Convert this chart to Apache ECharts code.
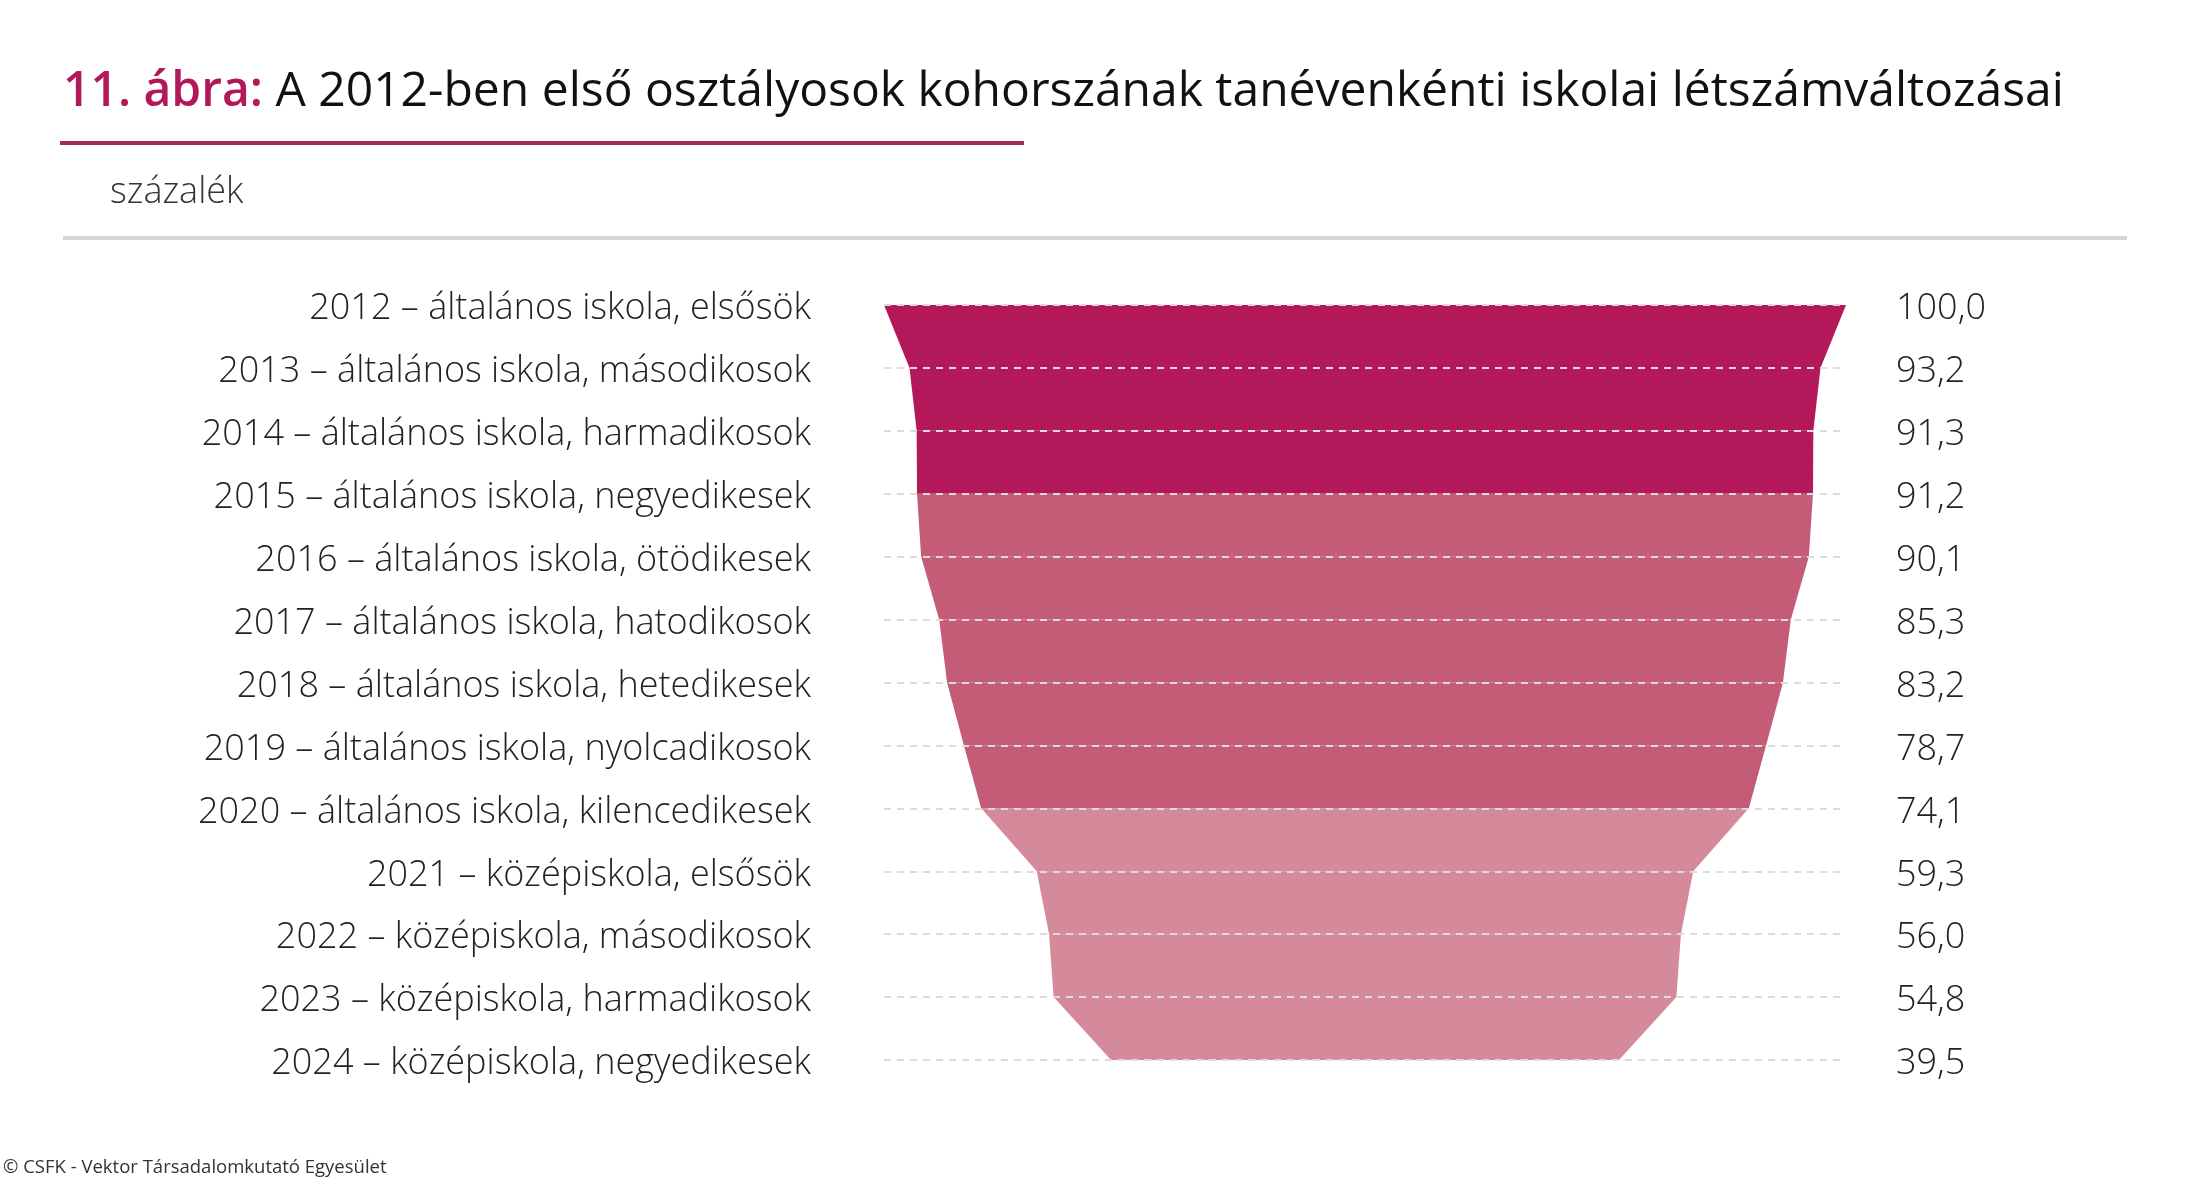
<!DOCTYPE html>
<html>
<head>
<meta charset="utf-8">
<title>11. ábra</title>
<script src="https://cdn.jsdelivr.net/npm/echarts@6/dist/echarts.min.js"></script>
<style>
  html, body { margin: 0; padding: 0; background: #fff; }
  #chart { width: 2187px; height: 1181px; }
</style>
</head>
<body>
<div id="chart"></div>
<script>
// tanévek / évfolyamok
const categories = [
  '2012 – általános iskola, elsősök',
  '2013 – általános iskola, másodikosok',
  '2014 – általános iskola, harmadikosok',
  '2015 – általános iskola, negyedikesek',
  '2016 – általános iskola, ötödikesek',
  '2017 – általános iskola, hatodikosok',
  '2018 – általános iskola, hetedikesek',
  '2019 – általános iskola, nyolcadikosok',
  '2020 – általános iskola, kilencedikesek',
  '2021 – középiskola, elsősök',
  '2022 – középiskola, másodikosok',
  '2023 – középiskola, harmadikosok',
  '2024 – középiskola, negyedikesek'
];
// létszám, százalék (2012 = 100)
const values = [100.0, 93.2, 91.3, 91.2, 90.1, 85.3, 83.2, 78.7, 74.1, 59.3, 56.0, 54.8, 39.5];
// szakaszok: alsó tagozat, felső tagozat, középiskola
const segmentColors = ['#b2185a', '#b2185a', '#b2185a',
  '#c45c78', '#c45c78', '#c45c78', '#c45c78', '#c45c78',
  '#d48a9a', '#d48a9a', '#d48a9a', '#d48a9a'];

const font = "'Open Sans', 'DejaVu Sans', sans-serif";

let myChart = echarts.init(document.getElementById('chart'));

// a tölcsér darabjai: minden darab a saját értékétől a következőig szűkül
let pieces = values.slice(0, values.length - 1).map((v, i) => ({
  name: categories[i],
  value: v,
  itemStyle: { color: segmentColors[i] }
}));

// címke kicsit lejjebb, hogy a szaggatott vonalra üljön
let labelRich = {
  t: { padding: [8, 0, 0, 0], fontFamily: font, fontSize: 36, fontWeight: 300, color: '#222' }
};

let option = {
  animation: false,
  backgroundColor: '#fff',
  title: {
    left: 58,
    top: 63,
    text: '{a|11. ábra:}{b| A 2012-ben első osztályosok kohorszának tanévenkénti iskolai létszámváltozásai}',
    textStyle: {
      rich: {
        a: { fontFamily: font, fontSize: 48, fontWeight: 600, color: '#b2185a' },
        b: { fontFamily: font, fontSize: 48, fontWeight: 400, color: '#111' }
      }
    }
  },
  graphic: [
    { type: 'rect', left: 60, top: 141, shape: { width: 964, height: 4 }, style: { fill: '#a8265c' } },
    { type: 'text', left: 110, top: 175, style: { text: 'százalék', font: '300 36px ' + font, fill: '#333' } },
    { type: 'rect', left: 63, top: 236, shape: { width: 2064, height: 4 }, style: { fill: '#d4d4d4' } },
    { type: 'text', left: 3, top: 1158, style: { text: '© CSFK - Vektor Társadalomkutató Egyesület', font: '18.5px ' + font, fill: '#333' } }
  ],
  grid: { left: 884, right: 345, top: 305, bottom: 121 },
  xAxis: { type: 'value', show: false, min: 0, max: 1 },
  yAxis: [
    {
      type: 'category',
      inverse: true,
      boundaryGap: false,
      z: 10,
      data: categories,
      axisLine: { show: false },
      axisTick: { show: false },
      axisLabel: { margin: 73, formatter: v => '{t|' + v + '}', rich: labelRich },
      splitLine: { show: true, lineStyle: { color: '#dcdcdc', width: 2, type: [7, 6] } }
    },
    {
      type: 'category',
      position: 'right',
      inverse: true,
      boundaryGap: false,
      data: values.map(v => v.toFixed(1).replace('.', ',')),
      axisLine: { show: false },
      axisTick: { show: false },
      axisLabel: { margin: 54, align: 'left', formatter: v => '{t|' + v + '}', rich: labelRich },
      splitLine: { show: false }
    }
  ],
  series: [{
    type: 'funnel',
    sort: 'none',
    left: 884,
    top: 305,
    width: 962,
    height: 755,
    gap: 0,
    // az utolsó darab alja a záró értékre szűkül
    min: values[values.length - 1],
    max: values[0],
    minSize: '52.8%',
    maxSize: '100%',
    label: { show: false },
    labelLine: { show: false },
    itemStyle: { borderWidth: 0 },
    emphasis: { disabled: true },
    data: pieces
  }]
};

myChart.setOption(option);
</script>
</body>
</html>
